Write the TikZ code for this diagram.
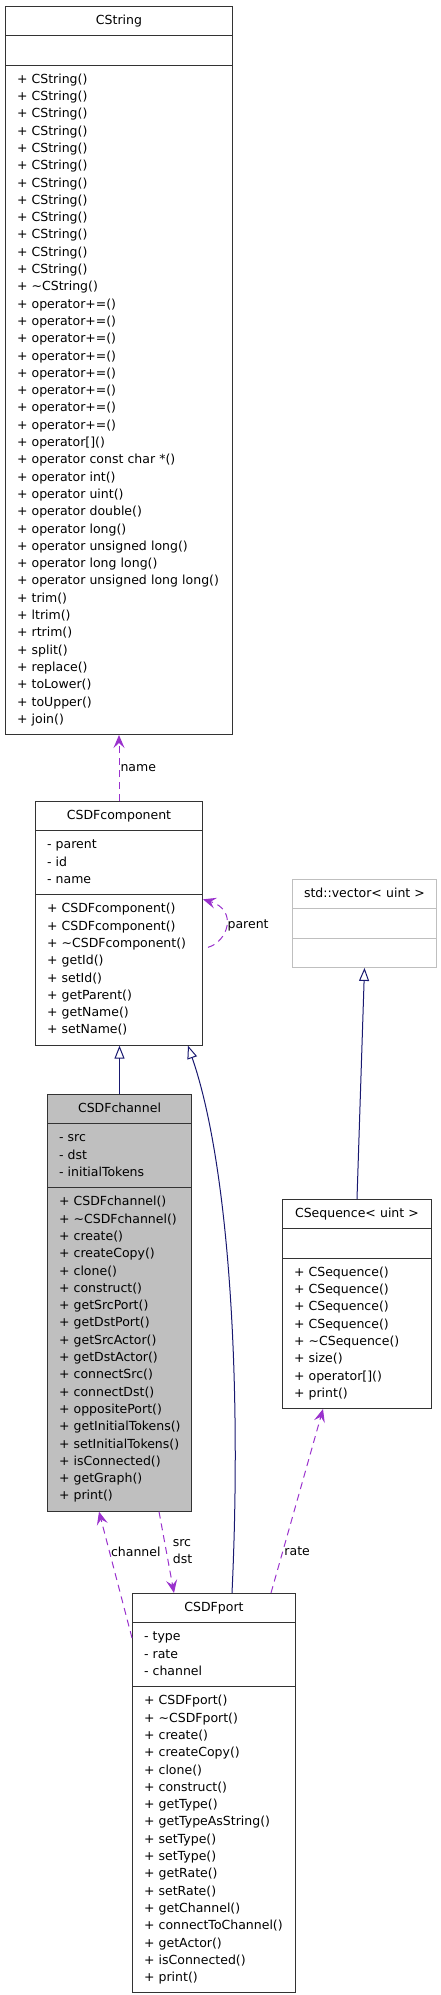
\documentclass[tikz,border=0pt]{standalone}
\usepackage{fontspec}
\setmainfont{DejaVu Sans}
\usetikzlibrary{shapes.multipart,arrows.meta}
\definecolor{usecolor}{HTML}{9A32CD}
\definecolor{basecolor}{HTML}{191970}
\newcommand{\umlfont}{\fontsize{12.5}{17.3}\selectfont}
\newcommand{\classtitle}[1]{\makebox[\linewidth]{\strut#1}}
\newcommand{\members}[1]{\begin{tabular}[t]{@{}l@{}}#1\end{tabular}}

\begin{document}
\begin{tikzpicture}[x=1pt,y=-1pt,
    classbox/.style={rectangle split, rectangle split parts=3, draw=black!80, line width=1pt,
      inner xsep=11.5pt, inner ysep=5.5pt, anchor=north west, font=\umlfont},
    uses/.style={draw=usecolor, line width=1pt, dash pattern=on 7pt off 5pt,
      -{Stealth[length=13pt,width=11pt,inset=5pt]}},
    derives/.style={draw=basecolor, line width=1pt, -{Triangle[open,length=13pt,width=10pt]}},
    role/.style={font=\umlfont, inner sep=1pt, anchor=west, align=left}]
    \useasboundingbox (0,0) rectangle (441,1995);
    \node[classbox, text width=204pt] (cstring) at (5,6) {\classtitle{CString}
      \nodepart{two}\strut
      \nodepart{three}\members{+ CString()\\+ CString()\\+ CString()\\+ CString()\\+ CString()\\+ CString()\\
        + CString()\\+ CString()\\+ CString()\\+ CString()\\+ CString()\\+ CString()\\
        + \textasciitilde CString()\\+ operator+=()\\+ operator+=()\\+ operator+=()\\+ operator+=()\\
        + operator+=()\\+ operator+=()\\+ operator+=()\\+ operator+=()\\+ operator[]()\\
        + operator const char *()\\+ operator int()\\+ operator uint()\\+ operator double()\\
        + operator long()\\+ operator unsigned long()\\+ operator long long()\\
        + operator unsigned long long()\\+ trim()\\+ ltrim()\\+ rtrim()\\+ split()\\+ replace()\\
        + toLower()\\+ toUpper()\\+ join()}};
    \node[classbox, text width=144pt] (comp) at (35,801) {\classtitle{CSDFcomponent}
      \nodepart{two}\members{- parent\\- id\\- name}
      \nodepart{three}\members{+ CSDFcomponent()\\+ CSDFcomponent()\\+ \textasciitilde CSDFcomponent()\\
        + getId()\\+ setId()\\+ getParent()\\+ getName()\\+ setName()}};
    \node[classbox, text width=121pt, draw=black!25] (vector) at (292,879) {\classtitle{std::vector< uint >}
      \nodepart{two}\strut
      \nodepart{three}\strut};
    \node[classbox, text width=121pt, fill=black!25] (channel) at (47,1094) {\classtitle{CSDFchannel}
      \nodepart{two}\members{- src\\- dst\\- initialTokens}
      \nodepart{three}\members{+ CSDFchannel()\\+ \textasciitilde CSDFchannel()\\+ create()\\+ createCopy()\\
        + clone()\\+ construct()\\+ getSrcPort()\\+ getDstPort()\\+ getSrcActor()\\+ getDstActor()\\
        + connectSrc()\\+ connectDst()\\+ oppositePort()\\+ getInitialTokens()\\+ setInitialTokens()\\
        + isConnected()\\+ getGraph()\\+ print()}};
    \node[classbox, text width=126pt] (seq) at (282,1199) {\classtitle{CSequence< uint >}
      \nodepart{two}\strut
      \nodepart{three}\members{+ CSequence()\\+ CSequence()\\+ CSequence()\\+ CSequence()\\
        + \textasciitilde CSequence()\\+ size()\\+ operator[]()\\+ print()}};
    \node[classbox, text width=140pt] (port) at (132,1593) {\classtitle{CSDFport}
      \nodepart{two}\members{- type\\- rate\\- channel}
      \nodepart{three}\members{+ CSDFport()\\+ \textasciitilde CSDFport()\\+ create()\\+ createCopy()\\
        + clone()\\+ construct()\\+ getType()\\+ getTypeAsString()\\+ setType()\\+ setType()\\
        + getRate()\\+ setRate()\\+ getChannel()\\+ connectToChannel()\\+ getActor()\\
        + isConnected()\\+ print()}};
    \draw[uses] (comp.north) -- (cstring.south) node[role, midway] {name};
    \draw[uses] ([xshift=5pt,yshift=-24pt]comp.east) .. controls +(19,-5) and +(36,11) .. ([yshift=24pt]comp.east)
      node[role, pos=0.5] {parent};
    \draw[derives] (channel.north) -- (channel.north |- comp.south);
    \draw[derives] ([xshift=100pt]port.north west) .. controls +(10,-213) and +(41,119) .. ([xshift=-15pt]comp.south east);
    \draw[derives] (seq.north) -- (vector.south);
    \draw[uses] ([yshift=-45pt]port.north west) -- ([xshift=52pt]channel.south west) node[role, pos=0.68] {channel};
    \draw[uses] ([xshift=112pt]channel.south west) -- ([xshift=42pt]port.north west)
      node[role, pos=0.49, xshift=5pt] {src\\dst};
    \draw[uses] ([xshift=139pt]port.north west) -- ([xshift=41pt]seq.south west) node[role, pos=0.23] {rate};
\end{tikzpicture}
\end{document}
